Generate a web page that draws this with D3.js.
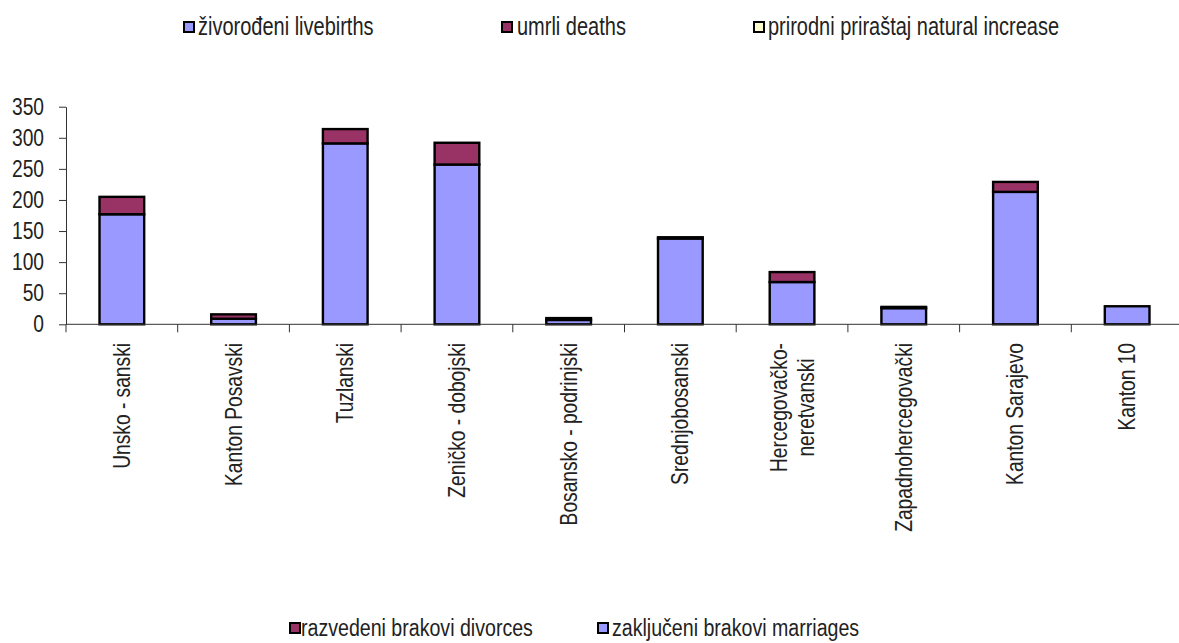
<!DOCTYPE html>
<html>
<head>
<meta charset="utf-8">
<script src="https://cdn.jsdelivr.net/npm/d3@7"></script>
<style>
  html, body { margin: 0; padding: 0; background: #fff; }
  svg { display: block; font-family: "Liberation Sans", Arial, sans-serif; }
</style>
</head>
<body>
<svg id="chart" width="1179" height="643"></svg>
<script>
// ---- data ----
const categories = ["Unsko - sanski", "Kanton Posavski", "Tuzlanski", "Zeničko - dobojski",
  "Bosansko - podrinjski", "Srednjobosanski", "Hercegovačko-\nneretvanski",
  "Zapadnohercegovački", "Kanton Sarajevo", "Kanton 10"];
const marriages = [177, 9, 291, 257, 7, 138, 68, 26, 213, 29];
const divorces = [28, 7, 23, 35, 3, 2, 16, 2, 16, 0];
const yTicks = [0, 50, 100, 150, 200, 250, 300, 350];
const topLegend = [
  { label: "živorođeni livebirths", color: "#9999FF" },
  { label: "umrli deaths", color: "#993366" },
  { label: "prirodni priraštaj natural increase", color: "#FFFFCC" }
];
const bottomLegend = [
  { label: "razvedeni brakovi divorces", color: "#993366" },
  { label: "zaključeni brakovi marriages", color: "#9999FF" }
];
const seriesKeys = ["marriages", "divorces"];
const seriesColors = { marriages: "#9999FF", divorces: "#993366" };

// ---- layout ----
const svg = d3.select("#chart");
const plotLeft = 66, plotRight = 1183, y0 = 324.3, yTop = 106.7;
const SX = 0.8; // horizontal condensing of the text

const x = d3.scaleBand().domain(categories).range([plotLeft, plotRight])
  .paddingInner(0.6).paddingOuter(0.3);
const y = d3.scaleLinear().domain([0, 350]).range([y0, yTop]);

const rows = categories.map((c, i) => ({ cat: c, marriages: marriages[i], divorces: divorces[i] }));
const stacked = d3.stack().keys(seriesKeys)(rows);

// bars
svg.append("g").selectAll("g").data(stacked).join("g")
  .attr("fill", d => seriesColors[d.key])
  .selectAll("rect").data(d => d.filter(s => s[1] - s[0] > 0)).join("rect")
  .attr("x", d => x(d.data.cat))
  .attr("width", x.bandwidth())
  .attr("y", d => y(d[1]))
  .attr("height", d => y(d[0]) - y(d[1]))
  .attr("stroke", "#000").attr("stroke-width", 2.4);

// y axis
const yAxis = svg.append("g").attr("transform", `translate(${plotLeft},0)`)
  .call(d3.axisLeft(y).tickValues(yTicks).tickSize(7).tickPadding(15).tickSizeOuter(0));
yAxis.select(".domain").attr("stroke", "#333");
yAxis.selectAll(".tick line").attr("stroke", "#333");
yAxis.selectAll(".tick text")
  .attr("font-size", 24).attr("fill", "#222")
  .attr("font-family", "'Liberation Sans', Arial, sans-serif")
  .each(function () {
    const t = d3.select(this);
    const xx = +t.attr("x");
    t.attr("x", null).attr("transform", `translate(${xx},0) scale(${SX},1)`);
  });

// x axis line and boundary ticks
const xg = svg.append("g");
xg.append("line").attr("x1", plotLeft).attr("x2", 1179).attr("y1", y0).attr("y2", y0)
  .attr("stroke", "#333");
const boundaries = categories.map(c => x(c) - x.step() * x.paddingOuter());
xg.selectAll("line.tk").data(boundaries).join("line").attr("class", "tk")
  .attr("x1", d => d).attr("x2", d => d).attr("y1", y0).attr("y2", y0 + 8)
  .attr("stroke", "#333");

// category labels (rotated, top-anchored, lines centered)
const labelTop = 343;
categories.forEach(c => {
  const lines = c.split("\n");
  const cx = x(c) + x.bandwidth() / 2;
  const lh = 27;
  const g = svg.append("g")
    .attr("transform", `translate(${cx - (lines.length - 1) * lh / 2 + 8},${labelTop}) rotate(-90) scale(${SX},1)`);
  const txt = g.append("text").attr("font-size", 24).attr("fill", "#222");
  lines.forEach((l, i) => txt.append("tspan").attr("x", 0).attr("y", i * lh).text(l));
  let maxLen = 0;
  txt.selectAll("tspan").each(function () { maxLen = Math.max(maxLen, this.getComputedTextLength()); });
  txt.attr("text-anchor", "middle");
  txt.selectAll("tspan").attr("x", -maxLen / 2);
});

// legends
function legend(items, positions, baseY, fs) {
  items.forEach((it, i) => {
    const p = positions[i];
    svg.append("rect").attr("x", p.sw).attr("y", baseY - 13).attr("width", 10).attr("height", 10)
      .attr("fill", it.color).attr("stroke", "#000").attr("stroke-width", 2);
    svg.append("text").attr("transform", `translate(${p.tx},${baseY}) scale(${SX},1)`)
      .attr("font-size", fs).attr("fill", "#222").text(it.label);
  });
}
legend(topLegend, [{ sw: 184, tx: 198 }, { sw: 502, tx: 517 }, { sw: 754, tx: 768 }], 35, 25);
legend(bottomLegend, [{ sw: 290, tx: 301 }, { sw: 598, tx: 612 }], 636, 24.5);
</script>
</body>
</html>
